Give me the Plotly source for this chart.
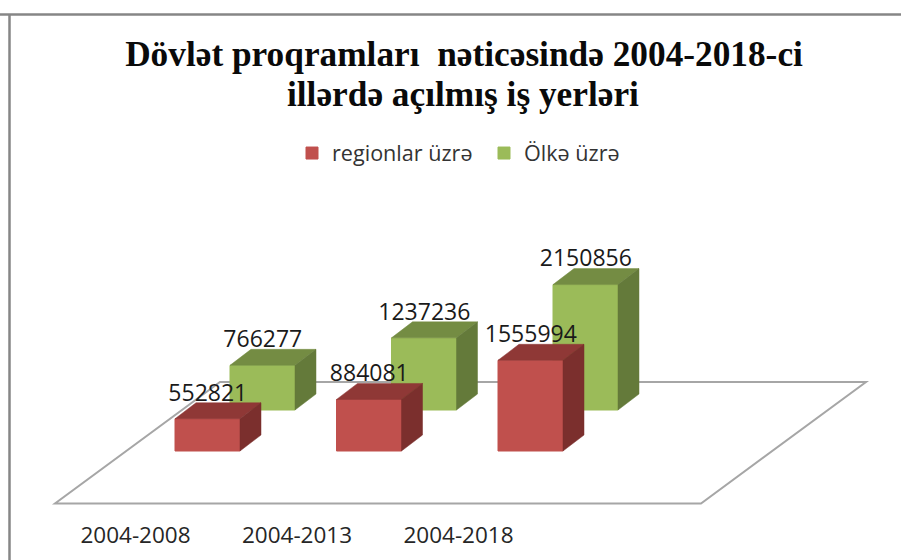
import plotly.graph_objects as go

# --- Data ---
periods = ["2004-2008", "2004-2013", "2004-2018"]
regions_name = "regionlar üzrə"
country_name = "Ölkə üzrə"
regions_values = [552821, 884081, 1555994]
country_values = [766277, 1237236, 2150856]
title_line1 = "<b>Dövlət proqramları  nəticəsində 2004-2018-ci</b>"
title_line2 = "<b>illərdə açılmış iş yerləri</b>"

# --- Layout geometry (pixels) ---
W, H, MB = 901, 560, 45
PLOT_H = H - MB
X0_PX, STEP_PX = 207.5, 161.5      # front red bar centre, category spacing
BASE_PX = 451.0                    # pixel of value 0 on the front row
PX_PER_UNIT = 58.3e-6
BAR_W = 65 / STEP_PX
DEPTH_X = 21 / STEP_PX             # bar depth drawn to the right
DEPTH_Y = 16 / PX_PER_UNIT         # and upward
ROW_DX = 55 / STEP_PX              # back row offset
ROW_DY = 41 / PX_PER_UNIT
TICK_DX = -72 / STEP_PX
LABEL_DY = 8 / PX_PER_UNIT

xrange = [-X0_PX / STEP_PX, (W - X0_PX) / STEP_PX]
yrange = [(BASE_PX - PLOT_H) / PX_PER_UNIT, BASE_PX / PX_PER_UNIT]


def px(x):
    return x / W


def py(y):
    return 1 - y / PLOT_H


fig = go.Figure()


def add_series(name, values, dx, base, front, top, side):
    xs = [i + dx for i in range(len(values))]
    fig.add_trace(go.Bar(
        x=xs, y=values, base=base, width=BAR_W, name=name,
        marker=dict(color=front, line=dict(color=front, width=1)),
    ))
    for x, v in zip(xs, values):
        l, r = x - BAR_W / 2, x + BAR_W / 2
        yt = base + v
        fig.add_trace(go.Scatter(
            x=[l, r, r + DEPTH_X, l + DEPTH_X, l],
            y=[yt, yt, yt + DEPTH_Y, yt + DEPTH_Y, yt],
            fill="toself", fillcolor=top, mode="lines",
            line=dict(color=top, width=0.5), showlegend=False, hoverinfo="skip",
        ))
        fig.add_trace(go.Scatter(
            x=[r, r + DEPTH_X, r + DEPTH_X, r, r],
            y=[base, base + DEPTH_Y, yt + DEPTH_Y, yt, base],
            fill="toself", fillcolor=side, mode="lines",
            line=dict(color=side, width=0.5), showlegend=False, hoverinfo="skip",
        ))


add_series(country_name, country_values, ROW_DX, ROW_DY, "#9BBB59", "#748C43", "#647A3A")
add_series(regions_name, regions_values, 0, 0, "#C0504D", "#8F3836", "#7B2F2D")

# Data labels
for values, dx, base in ((country_values, ROW_DX, ROW_DY), (regions_values, 0, 0)):
    fig.add_trace(go.Scatter(
        x=[i + dx + 0.002 for i in range(len(values))],
        y=[v + base + DEPTH_Y + LABEL_DY for v in values],
        text=[str(v) for v in values],
        mode="text", textposition="middle center",
        textfont=dict(family="Open Sans", size=23, color="#1a1a1a"),
        showlegend=False, hoverinfo="skip",
    ))

floor = [(55, 503.5), (701, 503.5), (866, 382), (220, 382)]
floor_path = "M" + " L".join(f"{px(a):.5f},{py(b):.5f}" for a, b in floor) + " Z"
title_font = dict(family="Liberation Serif", size=35.3, color="#0a0a0a")

fig.update_layout(
    width=W, height=H,
    margin=dict(l=0, r=0, t=0, b=MB, pad=0),
    paper_bgcolor="white", plot_bgcolor="white",
    barmode="overlay",
    title=dict(
        text=title_line1, x=464 / W, xanchor="center", xref="paper",
        y=1 - 54 / H, yanchor="middle", yref="container",
        font=title_font,
    ),
    annotations=[dict(
        text=title_line2, x=px(462.5), y=py(94), xref="paper", yref="paper",
        xanchor="center", yanchor="middle", showarrow=False, font=title_font,
    )],
    legend=dict(
        orientation="h", traceorder="reversed",
        x=292 / W, xanchor="left", y=py(132.5), yanchor="top",
        entrywidth=147, entrywidthmode="pixels",
        font=dict(family="Open Sans", size=21.6, color="#333333"),
        bgcolor="rgba(0,0,0,0)",
    ),
    xaxis=dict(
        range=xrange, showgrid=False, zeroline=False, showline=False,
        tickmode="array", tickvals=[i + TICK_DX for i in range(3)], ticktext=periods,
        ticks="", ticklabelstandoff=4,
        tickfont=dict(family="Open Sans", size=22.5, color="#262626"),
    ),
    yaxis=dict(range=yrange, visible=False),
    shapes=[
        dict(type="path", xref="paper", yref="paper", path=floor_path, layer="below",
             line=dict(color="#A6A6A6", width=2), fillcolor="white"),
        dict(type="line", xref="paper", yref="paper", x0=0, x1=1, y0=py(14.5), y1=py(14.5),
             line=dict(color="#868686", width=2.5)),
        dict(type="line", xref="paper", yref="paper", x0=px(9.5), x1=px(9.5), y0=py(14.5), y1=py(H),
             line=dict(color="#868686", width=2.5)),
    ],
)

fig.write_html(
    "out.html",
    config={"displayModeBar": False},
    post_script="document.body.style.margin='0';document.body.style.overflow='hidden';",
)
